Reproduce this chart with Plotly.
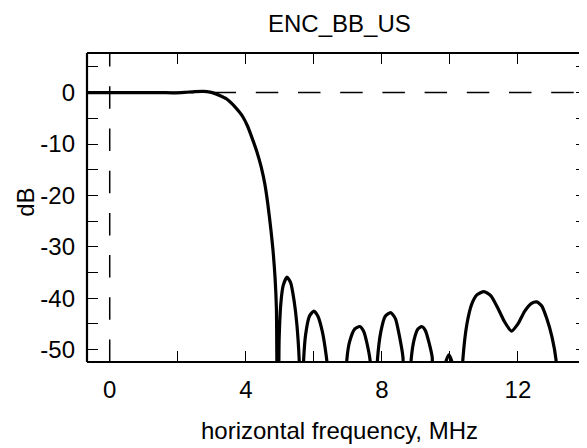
import plotly.graph_objects as go

# --- data (frequency in MHz, response in dB) ---
freq_mhz = [-0.7, 0.0, 1.0, 1.5, 1.9, 2.2, 2.5, 2.75, 2.95, 3.1, 3.25, 3.43, 3.6, 3.8,
            3.92, 4.05, 4.21, 4.33, 4.45, 4.56, 4.65, 4.74, 4.8, 4.86, 4.9, 4.94,
            4.95, 4.98, 5.03, 5.1, 5.21, 5.32, 5.42, 5.5, 5.57, 5.6,
            5.67, 5.70, 5.76, 5.87, 6.0, 6.12, 6.25, 6.35, 6.41, 6.43,
            6.93, 6.97, 7.05, 7.2, 7.35, 7.47, 7.57, 7.66, 7.7,
            7.83, 7.87, 7.97, 8.1, 8.26, 8.4, 8.52, 8.62, 8.67,
            8.82, 8.86, 8.95, 9.06, 9.17, 9.28, 9.38, 9.48, 9.53,
            9.84, 9.88, 9.97, 10.06, 10.1,
            10.33, 10.38, 10.5, 10.65, 10.8, 11.0, 11.2, 11.4, 11.6, 11.81, 12.0,
            12.2, 12.4, 12.55, 12.7, 12.85, 13.0, 13.12, 13.17]
response_db = [0.0, 0.0, 0.0, 0.0, -0.05, 0.05, 0.2, 0.25, 0.1, -0.2, -0.6, -1.2, -2.2, -3.7,
               -4.8, -6.5, -9.3, -11.6, -14.4, -17.8, -21.8, -26.8, -30.7, -36.0, -42.0, -60.0,
               -60.0, -48.0, -41.0, -37.5, -35.9, -37.0, -40.5, -45.0, -52.0, -60.0,
               -60.0, -52.0, -47.0, -43.5, -42.5, -43.5, -46.5, -50.5, -54.0, -60.0,
               -60.0, -52.0, -48.5, -46.0, -45.5, -46.5, -49.0, -52.4, -60.0,
               -60.0, -52.0, -46.5, -43.5, -42.8, -44.0, -47.5, -51.5, -60.0,
               -60.0, -52.0, -48.0, -46.0, -45.5, -46.3, -48.5, -51.5, -60.0,
               -60.0, -52.4, -51.0, -52.4, -60.0,
               -60.0, -52.0, -45.0, -41.0, -39.3, -38.7, -39.5, -41.8, -44.5, -46.4, -45.0,
               -42.5, -41.0, -40.7, -41.5, -44.0, -47.5, -52.0, -60.0]

x_tick_vals = [0, 4, 8, 12]
y_tick_vals = [-50, -40, -30, -20, -10, 0]
x_range = [-0.668, 14.03]
y_range = [-52.4, 7.7]

FONT = "Liberation Sans, Arial, sans-serif"
FS = 24

# page layout (the browser page body adds an 8px margin)
BODY = 8
W, H = 587 - BODY, 448 - BODY
PL, PT, PR, PB = 87.3, 52.7, 587.0, 362.0   # plot area in page pixels


def px_to_paper(px, py):
    return (px - PL) / (PR - PL), (PB - py) / (PB - PT)


fig = go.Figure()
fig.add_trace(go.Scatter(x=freq_mhz, y=response_db, mode="lines",
                         line=dict(color="black", width=3.2, shape="spline", smoothing=0.6),
                         hoverinfo="skip", showlegend=False))

# dashed reference lines at 0 dB and 0 MHz
fig.add_shape(type="line", xref="x", yref="y", x0=x_range[0], x1=x_range[1], y0=0, y1=0,
              line=dict(color="black", width=1.5, dash="22.5px,19.7px"), layer="below")
fig.add_shape(type="line", xref="x", yref="y", x0=0, x1=0, y0=y_range[0], y1=y_range[1],
              line=dict(color="black", width=1.5, dash="22.5px,19.7px"), layer="below")

# frame (left, top, bottom)
for (x0, y0, x1, y1) in [(0, 0, 0, 1), (0, 1, 1, 1), (0, 0, 1, 0)]:
    fig.add_shape(type="line", xref="paper", yref="paper", x0=x0, y0=y0, x1=x1, y1=y1,
                  line=dict(color="black", width=2.2))

tx, ty = px_to_paper(340, 23)
xtx, xty = px_to_paper(340, 431)
ytx, yty = px_to_paper(25, 202)

fig.update_layout(
    width=W, height=H,
    margin=dict(l=PL - BODY, r=0, t=PT - BODY, b=H - (PB - BODY), pad=0),
    paper_bgcolor="white", plot_bgcolor="white",
    font=dict(family=FONT, size=FS, color="black"),
    xaxis=dict(range=x_range, tickvals=x_tick_vals, ticktext=[str(v) for v in x_tick_vals],
               ticks="inside", ticklen=11, tickwidth=1, tickcolor="black",
               minor=dict(dtick=2, tick0=0, ticks="inside", ticklen=11, tickwidth=1, tickcolor="black"),
               mirror="ticks", showline=False, showgrid=False, zeroline=False,
               ticklabelstandoff=11, tickfont=dict(size=FS)),
    yaxis=dict(range=y_range, tickvals=y_tick_vals, ticktext=[str(v) for v in y_tick_vals],
               ticks="inside", ticklen=11, tickwidth=1, tickcolor="black",
               minor=dict(dtick=5, tick0=0, ticks="inside", ticklen=11, tickwidth=1, tickcolor="black"),
               mirror="ticks", showline=False, showgrid=False, zeroline=False,
               ticklabelstandoff=11, tickfont=dict(size=FS)),
    annotations=[
        dict(text="ENC_BB_US", xref="paper", yref="paper", x=tx, y=ty,
             xanchor="center", yanchor="middle", showarrow=False,
             font=dict(family=FONT, size=FS)),
        dict(text="horizontal frequency, MHz", xref="paper", yref="paper", x=xtx, y=xty,
             xanchor="center", yanchor="middle", showarrow=False,
             font=dict(family=FONT, size=FS)),
        dict(text="dB", xref="paper", yref="paper", x=ytx, y=yty,
             xanchor="center", yanchor="middle", textangle=-90,
             showarrow=False, font=dict(family=FONT, size=FS)),
    ],
)

fig.write_html("out.html")
